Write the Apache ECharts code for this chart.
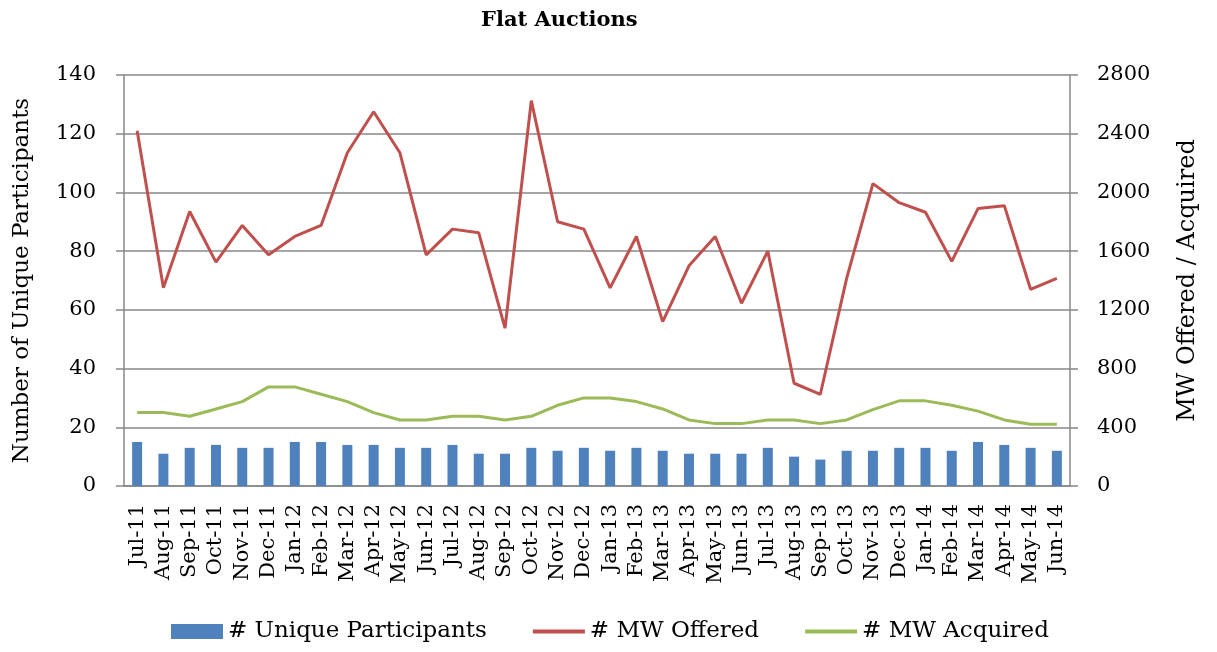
<!DOCTYPE html>
<html>
<head>
<meta charset="utf-8">
<title>Flat Auctions</title>
<script src="https://cdn.jsdelivr.net/npm/echarts@6/dist/echarts.min.js"></script>
<style>
    html, body { margin: 0; padding: 0; background: #fff; }
    #chart { width: 1217px; height: 652px; }
</style>
</head>
<body>
<div id="chart"></div>
<script>
    // months Jul-11 .. Jun-14
    var months = ['Jul-11', 'Aug-11', 'Sep-11', 'Oct-11', 'Nov-11', 'Dec-11',
        'Jan-12', 'Feb-12', 'Mar-12', 'Apr-12', 'May-12', 'Jun-12',
        'Jul-12', 'Aug-12', 'Sep-12', 'Oct-12', 'Nov-12', 'Dec-12',
        'Jan-13', 'Feb-13', 'Mar-13', 'Apr-13', 'May-13', 'Jun-13',
        'Jul-13', 'Aug-13', 'Sep-13', 'Oct-13', 'Nov-13', 'Dec-13',
        'Jan-14', 'Feb-14', 'Mar-14', 'Apr-14', 'May-14', 'Jun-14'];
    var participants = [15, 11, 13, 14, 13, 13, 15, 15, 14, 14, 13, 13,
        14, 11, 11, 13, 12, 13, 12, 13, 12, 11, 11, 11,
        13, 10, 9, 12, 12, 13, 13, 12, 15, 14, 13, 12];
    var mwOffered = [2420, 1350, 1870, 1525, 1775, 1575, 1700, 1775, 2270, 2550, 2270, 1575,
        1750, 1725, 1075, 2625, 1800, 1750, 1350, 1700, 1120, 1500, 1700, 1245,
        1600, 700, 625, 1415, 2060, 1930, 1865, 1530, 1890, 1910, 1340, 1415];
    var mwAcquired = [500, 500, 475, 525, 575, 675, 675, 625, 575, 500, 450, 450,
        475, 475, 450, 475, 550, 600, 600, 575, 525, 450, 425, 425,
        450, 450, 425, 450, 520, 580, 580, 550, 510, 450, 420, 420];

    var FONT = 'DejaVu Serif';
    var GREY = '#888888';

    var chart = echarts.init(document.getElementById('chart'));
    chart.setOption({
        animation: false,
        textStyle: {fontFamily: FONT, color: '#000'},
        title: {
            text: 'Flat Auctions',
            left: 476,
            top: 5,
            textStyle: {fontFamily: FONT, fontWeight: 'bold', fontSize: 21, color: '#000'}
        },
        legend: {
            bottom: 4,
            left: 166,
            itemWidth: 52,
            itemHeight: 15,
            itemGap: 44,
            textStyle: {fontFamily: FONT, fontSize: 23, color: '#000'},
            data: [
                {name: '# Unique Participants', icon: 'rect'},
                {name: '# MW Offered', itemStyle: {opacity: 0}, lineStyle: {width: 4}},
                {name: '# MW Acquired', itemStyle: {opacity: 0}, lineStyle: {width: 4}}
            ]
        },
        grid: {
            left: 124,
            right: 147,
            top: 75,
            bottom: 166
        },
        xAxis: {
            type: 'category',
            data: months,
            axisLine: {lineStyle: {color: GREY, width: 1.5}},
            axisTick: {length: 8, lineStyle: {color: GREY, width: 1.5}},
            axisLabel: {
                rotate: 90,
                interval: 0,
                margin: 18,
                fontFamily: FONT,
                fontSize: 21,
                color: '#000'
            }
        },
        yAxis: [{
            type: 'value',
            min: 0,
            max: 140,
            interval: 20,
            name: 'Number of Unique Participants',
            nameLocation: 'middle',
            nameRotate: 90,
            nameGap: 90,
            nameTextStyle: {fontFamily: FONT, fontSize: 23, color: '#000'},
            axisLine: {show: true, lineStyle: {color: GREY, width: 1.5}},
            axisTick: {show: true, length: 8, lineStyle: {color: GREY, width: 1.5}},
            axisLabel: {fontFamily: FONT, fontSize: 21, color: '#000', margin: 28},
            splitLine: {lineStyle: {color: GREY, width: 1.5}}
        }, {
            type: 'value',
            min: 0,
            max: 2800,
            interval: 400,
            name: 'MW Offered / Acquired',
            nameLocation: 'middle',
            nameRotate: 90,
            nameGap: 106,
            nameTextStyle: {fontFamily: FONT, fontSize: 24, color: '#000'},
            axisLine: {show: true, lineStyle: {color: GREY, width: 1.5}},
            axisTick: {show: true, length: 8, lineStyle: {color: GREY, width: 1.5}},
            axisLabel: {
                fontFamily: FONT, fontSize: 21, color: '#000', margin: 27,
                formatter: function (v) { return String(v); }
            },
            splitLine: {show: false}
        }],
        series: [{
            name: '# Unique Participants',
            type: 'bar',
            yAxisIndex: 0,
            barWidth: 10,
            itemStyle: {color: '#4F81BD'},
            data: participants
        }, {
            name: '# MW Offered',
            type: 'line',
            yAxisIndex: 1,
            symbol: 'none',
            lineStyle: {color: '#C0504D', width: 3},
            itemStyle: {color: '#C0504D'},
            data: mwOffered
        }, {
            name: '# MW Acquired',
            type: 'line',
            yAxisIndex: 1,
            symbol: 'none',
            lineStyle: {color: '#9BBB59', width: 3},
            itemStyle: {color: '#9BBB59'},
            data: mwAcquired
        }]
    });
</script>
</body>
</html>
